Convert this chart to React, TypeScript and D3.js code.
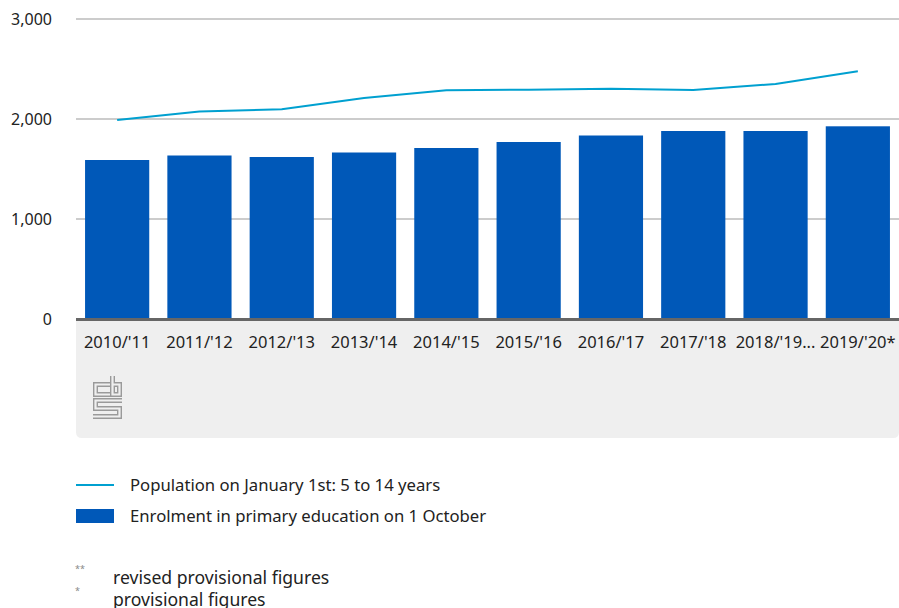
import React from "react";
import * as d3 from "d3";

const categories = ["2010/'11", "2011/'12", "2012/'13", "2013/'14", "2014/'15", "2015/'16", "2016/'17", "2017/'18", "2018/'19...", "2019/'20*"];
const enrolment = [1590, 1635, 1620, 1665, 1710, 1770, 1835, 1880, 1880, 1927];
const population = [1990, 2075, 2098, 2210, 2287, 2293, 2303, 2290, 2350, 2477];
const yTicks = [0, 1000, 2000, 3000];
const legendLabels = ["Population on January 1st: 5 to 14 years", "Enrolment in primary education on 1 October"];
const footnotes = [["**", "revised provisional figures"], ["*", "provisional figures"]];

const W = 899, H = 608;
const left = 76, right = 899, top = 19, bottom = 319;
const BAR = "#0058b8", LINE = "#00a0d0";
const FONT = "'Noto Sans', 'Open Sans', sans-serif";

export default function App() {
  const x = d3.scaleBand<string>().domain(categories).range([left, right]).paddingInner(0.22).paddingOuter(0.11);
  const y = d3.scaleLinear().domain([0, 3000]).range([bottom, top]);
  const line = d3.line<number>()
    .x((_, i) => (x(categories[i]) as number) + x.bandwidth() / 2)
    .y((d) => y(d));
  const fmt = d3.format(",");
  const panelBottom = 438;
  const r = 6;
  const panelPath = `M${left},${bottom} H${right} V${panelBottom - r} Q${right},${panelBottom} ${right - r},${panelBottom} H${left + r} Q${left},${panelBottom} ${left},${panelBottom - r} Z`;
  const logoPaths = [
    "M110,384.5 H95.5 V394.5 H110",
    "M112.5,376 V394.5 H119.5 V384.5 H112.5",
    "M122,400.5 H95.5 V408.5 H119.5 V416.5 H93",
  ];
  return (
    <svg width={W} height={H} style={{ position: "absolute", left: 0, top: 0, fontFamily: FONT }}>
      <rect width={W} height={H} fill="#fff" />
      <path d={panelPath} fill="#efefef" />
      {yTicks.filter((t) => t > 0).map((t) => (
        <line key={t} x1={left} x2={right} y1={y(t)} y2={y(t)} stroke="#9a9a9a" strokeWidth={1.2} />
      ))}
      {yTicks.map((t) => (
        <text key={t} x={52} y={y(t)} dy="0.35em" textAnchor="end" fontSize={16} fill="#222">{fmt(t)}</text>
      ))}
      {enrolment.map((v, i) => (
        <rect key={i} x={x(categories[i])} y={y(v)} width={x.bandwidth()} height={y(0) - y(v)} fill={BAR} />
      ))}
      <path d={line(population) || ""} fill="none" stroke={LINE} strokeWidth={2} />
      <line x1={left} x2={right} y1={bottom + 0.5} y2={bottom + 0.5} stroke="#666" strokeWidth={3} />
      {categories.map((c) => (
        <text key={c} x={(x(c) as number) + x.bandwidth() / 2} y={342} dy="0.35em" textAnchor="middle" fontSize={16.5} fill="#222">{c}</text>
      ))}
      <g fill="none" strokeLinecap="butt" strokeLinejoin="miter">
        {logoPaths.map((p, i) => <path key={"o" + i} d={p} stroke="#9a9a9a" strokeWidth={5} />)}
        {logoPaths.map((p, i) => <path key={"i" + i} d={p} stroke="#efefef" strokeWidth={2.2} />)}
      </g>
      <line x1={76} x2={114} y1={485} y2={485} stroke={LINE} strokeWidth={2} />
      <text x={130} y={485} dy="0.35em" fontSize={16.7} fill="#222">{legendLabels[0]}</text>
      <rect x={76} y={509} width={38} height={14} fill={BAR} />
      <text x={130} y={516} dy="0.35em" fontSize={16.7} fill="#222">{legendLabels[1]}</text>
      {footnotes.map(([s, t], i) => (
        <g key={s}>
          <text x={75} y={572 + i * 22} fontSize={9} fill="#888">{s}</text>
          <text x={113} y={578 + i * 22} dy="0.35em" fontSize={17.6} fill="#222">{t}</text>
        </g>
      ))}
    </svg>
  );
}
